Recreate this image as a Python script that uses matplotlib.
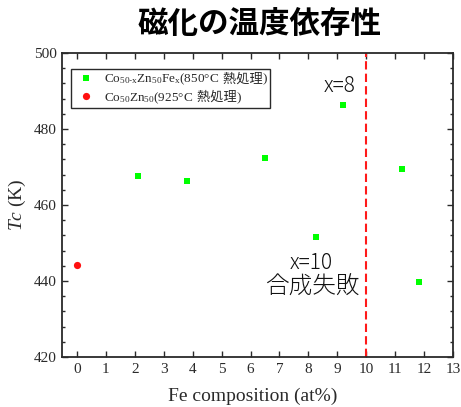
# Curie temperature vs Fe content for Co-Zn-Fe alloys
import matplotlib
matplotlib.use('Agg')
import matplotlib.pyplot as plt
from matplotlib.lines import Line2D
from matplotlib.offsetbox import (AnchoredOffsetbox, DrawingArea, HPacker,
                                  TextArea, VPacker)
from matplotlib.ticker import MultipleLocator

plt.rcParams['mathtext.fontset'] = 'custom'
plt.rcParams['mathtext.rm'] = 'Liberation Serif'
plt.rcParams['mathtext.it'] = 'Liberation Serif:italic'
plt.rcParams['font.family'] = ['Liberation Serif', 'Noto Sans CJK JP']

# Co50-xZn50Fex annealed at 850 C
fe_x = [2.12, 3.81, 6.49, 8.28, 9.19, 11.22, 11.82]
fe_tc = [467.7, 466.4, 472.4, 451.7, 486.4, 469.5, 439.8]
# Co50Zn50 annealed at 925 C
cozn_x = [0]
cozn_tc = [444.2]
fail_x = 10

xticks = list(range(0, 14))
yticks = [420, 440, 460, 480, 500]

ink = '#2a2a2a'
cjk = ['Noto Sans CJK JP']

fig = plt.figure(figsize=(4.61, 4.07), dpi=100)
ax = fig.add_axes([62 / 461, 1 - 357 / 407, 391 / 461, 304 / 407])

ax.plot(fe_x, fe_tc, 's', color='#00ff00', markersize=4.4, markeredgewidth=0)
ax.plot(cozn_x, cozn_tc, 'o', color='#ff1010', markersize=5.2, markeredgewidth=0)
ax.axvline(fail_x, color='#ff1a1a', lw=1.5, linestyle=(0, (4, 2)))

ax.set_xlim(-0.52, 13)
ax.set_ylim(420, 500)
ax.set_xticks(xticks)
ax.set_yticks(yticks)
ax.yaxis.set_minor_locator(MultipleLocator(4))
ax.tick_params(which='both', direction='in', top=True, right=True,
               colors=ink, labelsize=11, width=1)
ax.tick_params(which='major', length=4.5, pad=4)
ax.tick_params(which='minor', length=2.5)
for s in ax.spines.values():
    s.set_color(ink)
    s.set_linewidth(1.3)

ax.set_xlabel('Fe composition (at%)', fontsize=14, color=ink)
ax.xaxis.set_label_coords(0.487, -0.1)
ax.set_ylabel('$Tc$ (K)', fontsize=14, color=ink)
ax.yaxis.set_label_coords(-0.087, 0.5)

ax.text(9.09, 491.3, 'x=8', family=cjk, fontsize=15, fontweight='light',
        color='#111111', ha='center', va='center')
ax.text(8.09, 444.7, 'x=10', family=cjk, fontsize=15, fontweight='light',
        color='#111111', ha='center', va='center')
ax.text(8.12, 438.4, '合成失敗', family=cjk, fontsize=17, fontweight='light',
        color='#111111', ha='center', va='center')

fig.text(260 / 461, 1 - 24 / 407, '磁化の温度依存性', family=cjk,
         fontsize=22, fontweight='bold', ha='center', va='center')


# legend rows: marker + serif formula + CJK note
def legend_row(marker, color, size, formula):
    da = DrawingArea(22, 7, 0, 0)
    da.add_artist(Line2D([9], [3.2], marker=marker, color=color,
                         markersize=size, markeredgewidth=0, linestyle=''))
    serif = dict(family='Liberation Serif', size=9.5, color=ink)
    parts = [da,
             TextArea(formula, textprops=serif),
             TextArea(' 熱処理', textprops=dict(family=cjk, size=9.5, color=ink)),
             TextArea(')', textprops=serif)]
    return HPacker(children=parts, align='baseline', pad=0, sep=0)


rows = VPacker(children=[
    legend_row('s', '#00ff00', 4.4,
               r'Co$_{\text{50-x}}$Zn$_{\text{50}}$Fe$_{\text{x}}$(850°C'),
    legend_row('o', '#ff1010', 5.2,
               r'Co$_{\text{50}}$Zn$_{\text{50}}$(925°C'),
], align='left', pad=0, sep=2)

box = AnchoredOffsetbox(loc='upper left', child=rows, pad=0.2, borderpad=0,
                        frameon=True, bbox_to_anchor=(0.023, 0.947),
                        bbox_transform=ax.transAxes, prop=dict(size=10))
box.patch.set_boxstyle('square', pad=0)
box.patch.set_edgecolor(ink)
box.patch.set_linewidth(1)
ax.add_artist(box)

fig.savefig('out.png', dpi=100)
